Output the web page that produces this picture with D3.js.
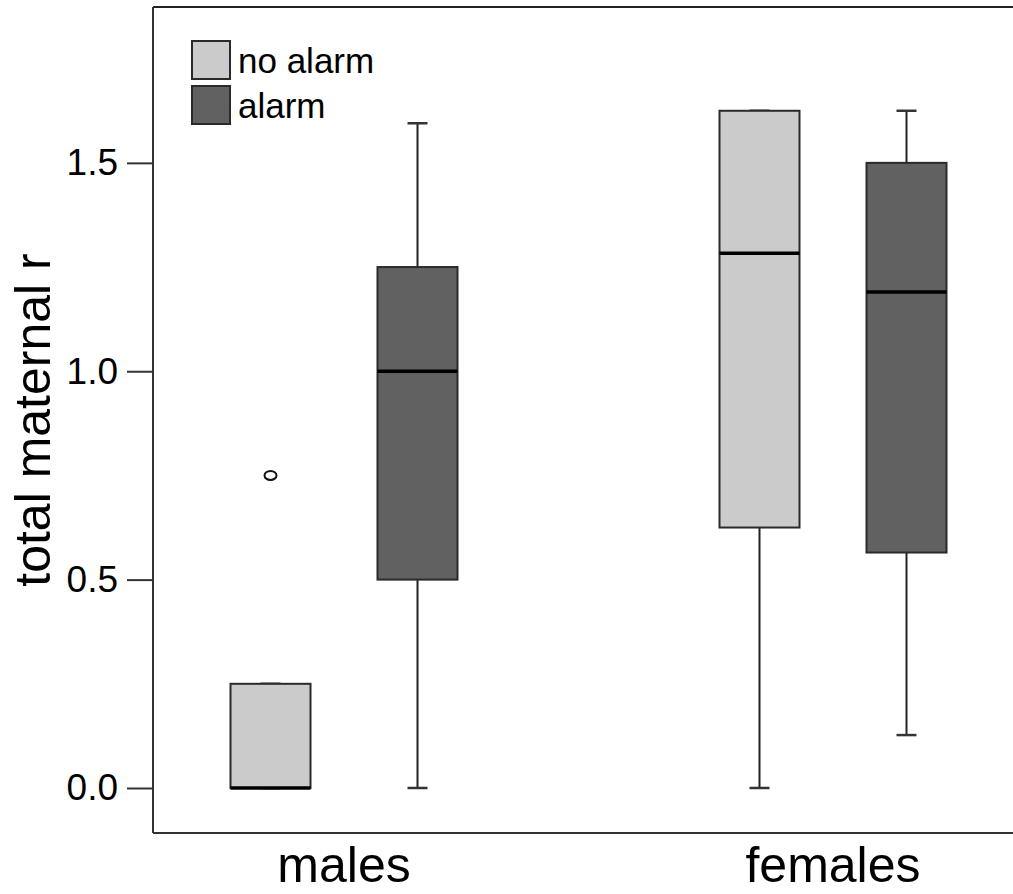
<!DOCTYPE html>
<html>
<head>
<meta charset="utf-8">
<script src="https://cdn.jsdelivr.net/npm/d3@7"></script>
<style>
  body { margin: 0; background: #fff; }
  svg { font-family: "Liberation Sans", Arial, sans-serif; }
</style>
</head>
<body>
<svg id="chart" width="1013" height="894"></svg>
<script>
// data
var groups = ["males", "females"];
var conditions = ["no alarm", "alarm"];
// [min, q1, median, q3, max] per group, per condition
var maleStats = [[0, 0, 0, 0.25, 0.25], [0, 0.5, 1.0, 1.25, 1.595]];
var femaleStats = [[0, 0.625, 1.283, 1.625, 1.625], [0.127, 0.565, 1.19, 1.5, 1.625]];
var outliers = [{group: "males", cond: "no alarm", value: 0.75}];
var yTicks = [0, 0.5, 1.0, 1.5];

var fills = {"no alarm": "#cbcbcb", "alarm": "#616161"};

var svg = d3.select("#chart"),
    plotLeft = 153, plotRight = 1013, plotTop = 7, plotBottom = 833;

var boxes = [];
groups.forEach(function(g, gi) {
  var st = gi === 0 ? maleStats : femaleStats;
  conditions.forEach(function(c, ci) {
    var s = st[ci];
    boxes.push({group: g, cond: c, min: s[0], q1: s[1], med: s[2], q3: s[3], max: s[4]});
  });
});

var y = d3.scaleLinear().domain([-0.108, 1.874]).range([plotBottom, plotTop]);
var x = d3.scalePoint().domain(groups).range([344, 833]);
var xs = d3.scalePoint().domain(conditions).range([-73.5, 73.5]);
var boxW = 80, capW = 20;

// frame: left axis, top and bottom lines
svg.append("line").attr("x1", plotLeft).attr("x2", plotRight).attr("y1", plotTop).attr("y2", plotTop)
  .attr("stroke", "#222").attr("stroke-width", 2);
svg.append("line").attr("x1", plotLeft).attr("x2", plotRight).attr("y1", plotBottom).attr("y2", plotBottom)
  .attr("stroke", "#333").attr("stroke-width", 2);

var yAxis = svg.append("g")
  .attr("transform", "translate(" + plotLeft + ",0)")
  .call(d3.axisLeft(y).tickValues(yTicks).tickFormat(d3.format(".1f")).tickSize(26).tickPadding(9));
yAxis.select(".domain").attr("d", "M0," + plotTop + "V" + plotBottom).attr("stroke", "#333").attr("stroke-width", 2);
yAxis.selectAll(".tick line").attr("stroke", "#333").attr("stroke-width", 2);
yAxis.selectAll(".tick text").attr("font-size", 37).attr("fill", "#000")
  .attr("font-family", "Liberation Sans, Arial, sans-serif");

// x labels
svg.selectAll(".xlab").data(groups).enter().append("text")
  .attr("class", "xlab")
  .attr("x", function(d) { return x(d); })
  .attr("y", 882)
  .attr("text-anchor", "middle")
  .attr("font-size", 50)
  .text(function(d) { return d; });

// y title
svg.append("text")
  .attr("transform", "translate(50," + ((plotTop + plotBottom) / 2) + ") rotate(-90)")
  .attr("text-anchor", "middle")
  .attr("font-size", 50)
  .text("total maternal r");

var bx = svg.selectAll(".box").data(boxes).enter().append("g")
  .attr("class", "box")
  .attr("transform", function(d) { return "translate(" + (x(d.group) + xs(d.cond)) + ",0)"; });

// whiskers
bx.append("line").attr("x1", 0).attr("x2", 0)
  .attr("y1", function(d) { return y(d.max); }).attr("y2", function(d) { return y(d.q3); })
  .attr("stroke", "#222").attr("stroke-width", 2);
bx.append("line").attr("x1", 0).attr("x2", 0)
  .attr("y1", function(d) { return y(d.q1); }).attr("y2", function(d) { return y(d.min); })
  .attr("stroke", "#222").attr("stroke-width", 2);
bx.append("line").attr("x1", -capW / 2).attr("x2", capW / 2)
  .attr("y1", function(d) { return y(d.max); }).attr("y2", function(d) { return y(d.max); })
  .attr("stroke", "#333").attr("stroke-width", 2.5);
bx.append("line").attr("x1", -capW / 2).attr("x2", capW / 2)
  .attr("y1", function(d) { return y(d.min); }).attr("y2", function(d) { return y(d.min); })
  .attr("stroke", "#333").attr("stroke-width", 2.5);

bx.append("rect")
  .attr("x", -boxW / 2).attr("width", boxW)
  .attr("y", function(d) { return y(d.q3); })
  .attr("height", function(d) { return y(d.q1) - y(d.q3); })
  .attr("fill", function(d) { return fills[d.cond]; })
  .attr("stroke", "#2a2a2a").attr("stroke-width", 2);

bx.append("line").attr("x1", -boxW / 2).attr("x2", boxW / 2)
  .attr("y1", function(d) { return y(d.med); }).attr("y2", function(d) { return y(d.med); })
  .attr("stroke", "#000").attr("stroke-width", 3.5);

svg.selectAll(".outlier").data(outliers).enter().append("ellipse")
  .attr("cx", function(d) { return x(d.group) + xs(d.cond); })
  .attr("cy", function(d) { return y(d.value); })
  .attr("rx", 6).attr("ry", 4.5)
  .attr("fill", "none").attr("stroke", "#111").attr("stroke-width", 2);

// legend
var legend = svg.selectAll(".legend").data(conditions).enter().append("g")
  .attr("class", "legend")
  .attr("transform", function(d, i) { return "translate(192," + (41 + i * 45) + ")"; });
legend.append("rect").attr("width", 38).attr("height", 38)
  .attr("fill", function(d) { return fills[d]; })
  .attr("stroke", "#2a2a2a").attr("stroke-width", 2);
legend.append("text").attr("x", 46).attr("y", 32)
  .attr("font-size", 35)
  .text(function(d) { return d; });
</script>
</body>
</html>
